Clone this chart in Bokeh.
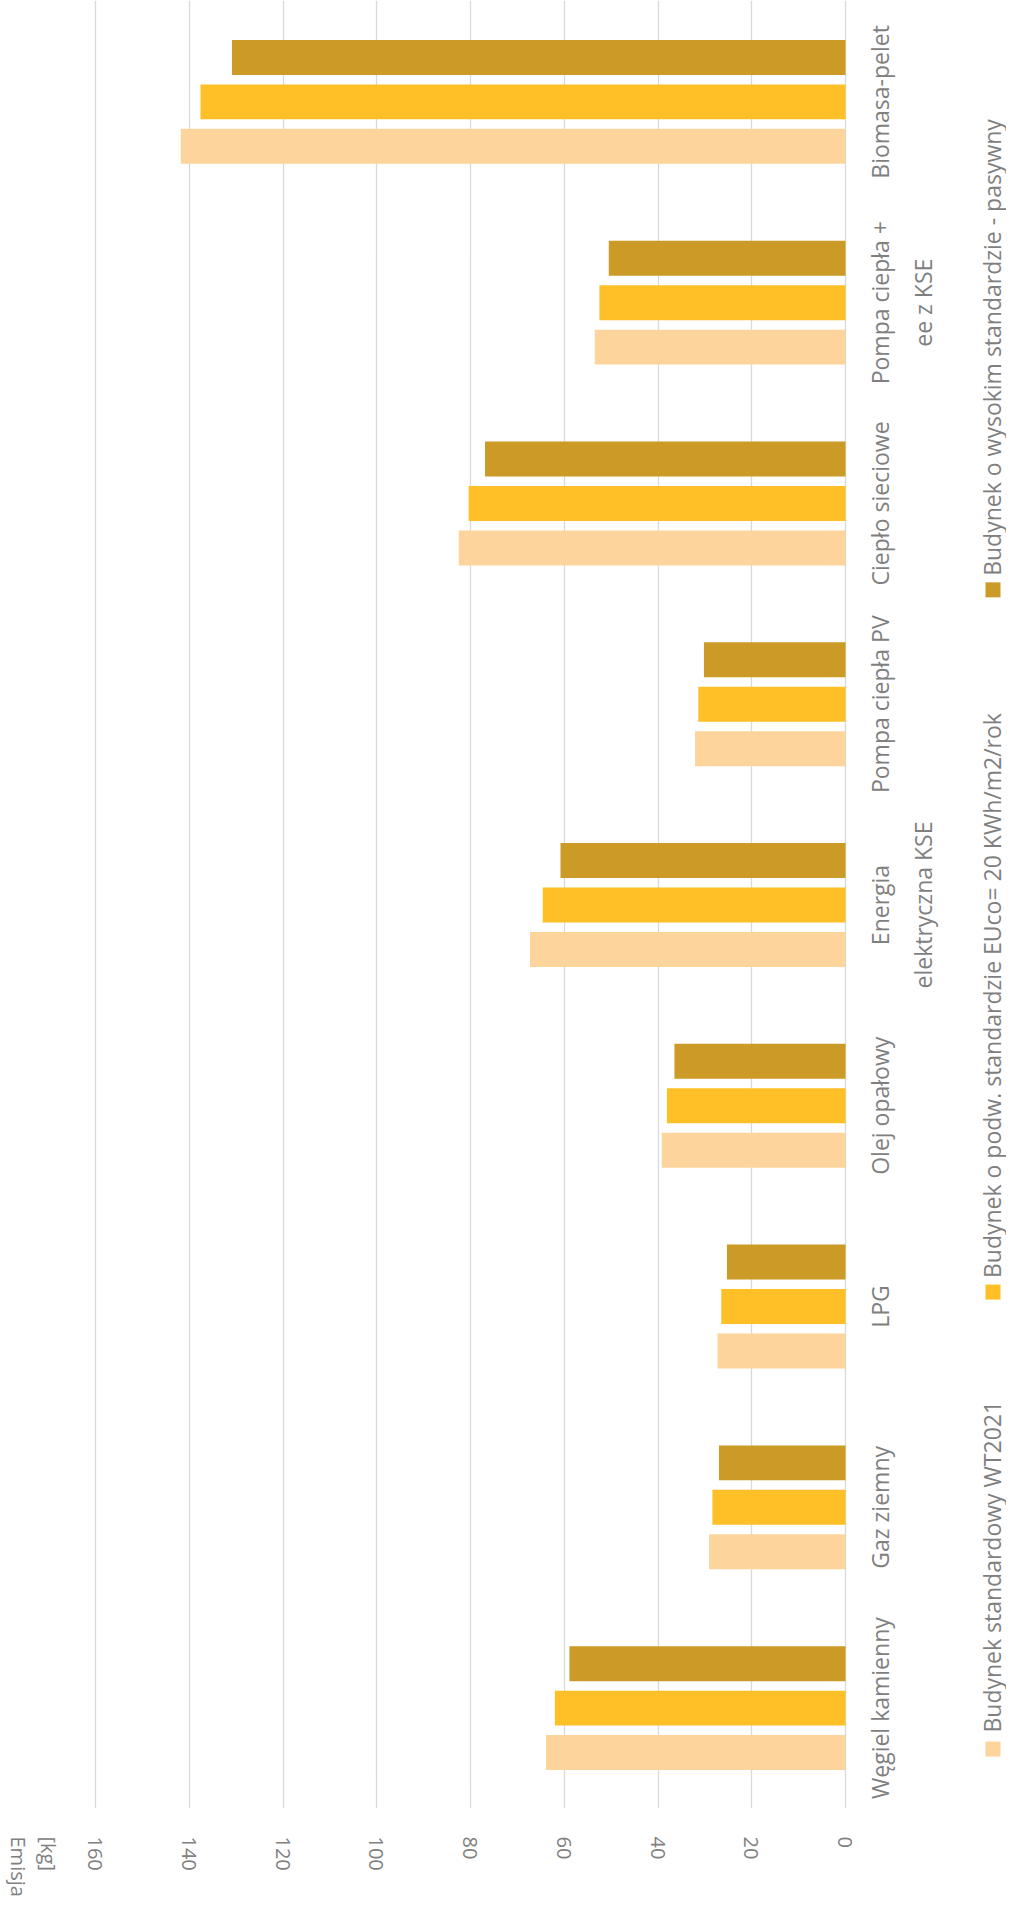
import math
from bokeh.plotting import figure
from bokeh.models import ColumnDataSource, Range1d, FixedTicker
from bokeh.transform import dodge
from bokeh.core.properties import value
from bokeh.embed import file_html
from bokeh.resources import INLINE

# ---------------- data ----------------
categories = ["Węgiel kamienny", "Gaz ziemny", "LPG", "Olej opałowy",
              "Energia elektryczna KSE", "Pompa ciepła PV", "Ciepło sieciowe",
              "Pompa ciepła + ee z KSE", "Biomasa-pelet"]
category_labels = ["Węgiel kamienny", "Gaz ziemny", "LPG", "Olej opałowy",
                   "Energia\nelektryczna KSE", "Pompa ciepła PV", "Ciepło sieciowe",
                   "Pompa ciepła +\nee z KSE", "Biomasa-pelet"]
series_names = ["Budynek standardowy WT2021",
                "Budynek o podw. standardzie EUco= 20 KWh/m2/rok",
                "Budynek o wysokim standardzie - pasywny"]
wt2021 = [63.9, 29.1, 27.3, 39.2, 67.3, 32.1, 82.5, 53.5, 141.8]
podw = [62.0, 28.4, 26.5, 38.1, 64.6, 31.4, 80.4, 52.5, 137.6]
pasywny = [58.9, 27.0, 25.3, 36.5, 60.8, 30.2, 76.9, 50.5, 130.9]
value_ticks = [0, 20, 40, 60, 80, 100, 120, 140, 160]
axis_title_lines = ["Emisja", "[kg]"]

colors = ["#FDD49B", "#FEBF27", "#CC9B27"]

# ---------------- layout (pixels) ----------------
W, H = 1006, 1899
ZERO_PX = 845                # x pixel of value 0
PX_PER_UNIT_X = 750 / 160.0
FRAME_BOTTOM = 1810
PX_PER_CAT = 201.0
X_START = ZERO_PX / PX_PER_UNIT_X          # value at x pixel 0
X_END = -(W - ZERO_PX) / PX_PER_UNIT_X
Y_START = -0.5
Y_END = Y_START + FRAME_BOTTOM / PX_PER_CAT


def xdata(px):
    return (ZERO_PX - px) / PX_PER_UNIT_X


def ydata(py):
    return Y_START + (FRAME_BOTTOM - py) / PX_PER_CAT


p = figure(width=W, height=H, output_backend="svg", toolbar_location=None,
           x_range=Range1d(X_START, X_END), y_range=Range1d(Y_START, Y_END),
           y_axis_location=None, min_border_left=0, min_border_right=0,
           min_border_top=0, min_border_bottom=H - FRAME_BOTTOM)
p.outline_line_color = None
p.background_fill_color = "white"
p.border_fill_color = "white"

idx = list(range(len(categories)))
src = ColumnDataSource(dict(idx=idx, cat=categories, label=category_labels,
                            wt2021=wt2021, podw=podw, pasywny=pasywny))

bar_h = 35 / PX_PER_CAT
off = 44.5 / PX_PER_CAT
for col, o, c in [("wt2021", -off, colors[0]), ("podw", 0.0, colors[1]), ("pasywny", off, colors[2])]:
    p.hbar(y=dodge("idx", o, range=p.y_range), left=0, right=col, height=bar_h,
           source=src, fill_color=c, line_color=None)

# grid / axis
p.xgrid.ticker = FixedTicker(ticks=value_ticks)
p.xgrid.grid_line_color = "#D9D9D9"
p.xgrid.grid_line_width = 1.3
p.ygrid.visible = False
title_pos = xdata(33)
ax = p.xaxis[0]
ax.ticker = FixedTicker(ticks=value_ticks + [title_pos])
# rotated multi-line axis labels are stacked in reverse order
ax.major_label_overrides = {title_pos: "\n".join(reversed(axis_title_lines))}
ax.axis_line_color = None
ax.major_tick_line_color = None
ax.minor_tick_line_color = None
ax.major_label_orientation = "vertical"
ax.major_label_standoff = 22
ax.major_label_text_font = "Open Sans"
ax.major_label_text_font_size = "20px"
ax.major_label_text_color = "#808080"
ax.major_label_text_line_height = 1.1

# category labels
p.text(x=xdata(863.5), y="idx", text="label", source=src, angle=math.pi / 2,
       text_align="center", text_baseline="top", text_font=value("Open Sans"),
       text_font_size="23px", text_color="#7F7F7F", text_line_height=1.35)

# legend (rotated)
leg_sq_y = [1750.5, 1293, 590]
leg_tx_y = [1734, 1279, 576]
leg_sq_x = 992.5
leg_tx_x = 991
leg = ColumnDataSource(dict(xs=[xdata(leg_sq_x)] * 3, xt=[xdata(leg_tx_x)] * 3,
                            ysq=[ydata(v) for v in leg_sq_y],
                            ytx=[ydata(v) for v in leg_tx_y], name=series_names, color=colors))
p.scatter(x="xs", y="ysq", marker="square", size=15, fill_color="color", line_color=None, source=leg)
p.text(x="xt", y="ytx", text="name", source=leg, angle=math.pi / 2,
       text_align="left", text_baseline="middle", text_font=value("Open Sans"),
       text_font_size="23px", text_color="#7F7F7F")

open("out.html", "w").write(file_html(p, INLINE))
